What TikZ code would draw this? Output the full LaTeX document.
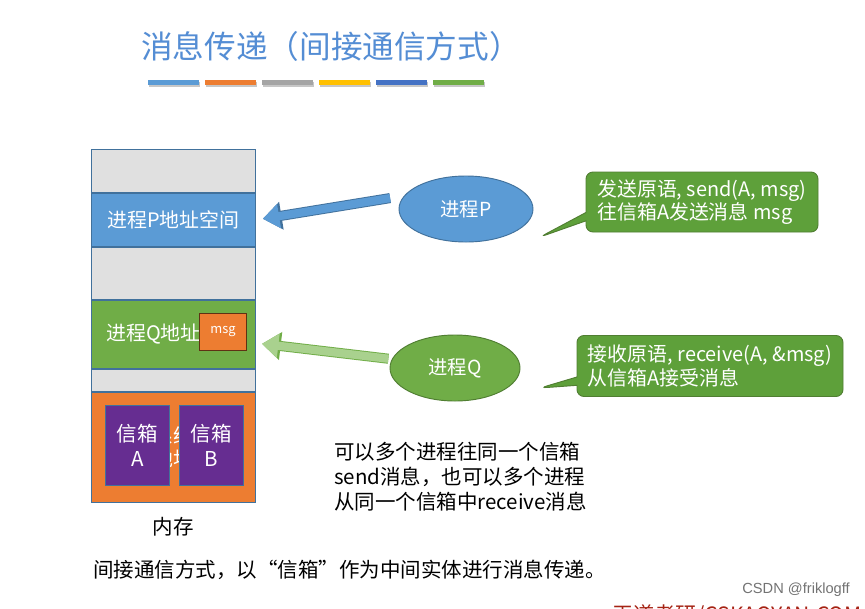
\documentclass[tikz,border=0pt]{standalone}
\usepackage{fontspec}
\setmainfont{Noto Sans CJK SC}
\newfontfamily\wmfont{Liberation Sans}
\usetikzlibrary{arrows.meta,shapes.geometric,shapes.callouts,positioning}
\usepackage{xcolor}
\definecolor{pblue}{RGB}{91,155,213}
\definecolor{pblueedge}{RGB}{65,113,156}
\definecolor{qgreen}{RGB}{112,173,71}
\definecolor{qgreenedge}{RGB}{80,126,50}
\definecolor{qarrow}{RGB}{169,209,142}
\definecolor{memgray}{RGB}{224,224,224}
\definecolor{kernorange}{RGB}{237,125,49}
\definecolor{boxpurple}{RGB}{102,45,145}
\definecolor{callgreen}{RGB}{94,160,58}
\definecolor{titleblue}{RGB}{84,141,212}
\definecolor{baryellow}{RGB}{255,192,0}
\definecolor{bardblue}{RGB}{68,114,196}
\definecolor{bargray}{RGB}{165,165,165}
\definecolor{wmred}{RGB}{165,35,20}
\newcommand{\pxl}{0.03cm}

\begin{document}
\begin{tikzpicture}[x=0.03cm,y=-0.03cm,
  memblk/.style={draw=pblueedge,line width=0.8pt,inner sep=0pt,minimum width=164*\pxl,text=white,font=\fontsize{17}{20}\selectfont},
  mailbox/.style={draw=pblueedge,line width=0.8pt,fill=boxpurple,inner sep=0pt,minimum width=64*\pxl,minimum height=80*\pxl,anchor=north west,text=white,align=center,font=\fontsize{17.5}{21}\selectfont},
  proc/.style={ellipse,line width=0.8pt,inner sep=0pt,text=white,font=\fontsize{16.5}{20}\selectfont},
  talk/.style={rectangle callout,fill=callgreen,draw=qgreenedge,line width=0.8pt,rounded corners=6pt,text=white,align=left,inner sep=0pt,font=\fontsize{17}{20}\selectfont},
  blkarrow/.style={line width=7pt,-{Triangle[length=14pt,width=20pt]},preaction={draw=#1,line width=8.6pt,-{Triangle[length=16pt,width=23pt]}}},
  plain/.style={font=\fontsize{17.5}{21.5}\selectfont,inner sep=0pt}]
\clip (0,0) rectangle (865,608);
\fill[white] (0,0) rectangle (865,608);

\node[anchor=west,text=titleblue,inner sep=0pt,font=\fontsize{27}{30}\selectfont] (title) at (141,46) {消息传递（间接通信方式）};
\fill[black!22] (149,82) rectangle (200,87);
\fill[pblue] (148,80) rectangle (199,85);
\fill[black!22] (206,82) rectangle (257,87);
\fill[kernorange] (205,80) rectangle (256,85);
\fill[black!22] (263,82) rectangle (314,87);
\fill[bargray] (262,80) rectangle (313,85);
\fill[black!22] (320,82) rectangle (371,87);
\fill[baryellow] (319,80) rectangle (370,85);
\fill[black!22] (377,82) rectangle (428,87);
\fill[bardblue] (376,80) rectangle (427,85);
\fill[black!22] (434,82) rectangle (485,87);
\fill[qgreen] (433,80) rectangle (484,85);

\node[memblk,fill=memgray,minimum height=43*\pxl,anchor=north west] (gtop) at (91,149) {};
\node[memblk,fill=pblue,minimum height=53*\pxl,below=0pt of gtop] (pspace) {进程P地址空间};
\node[memblk,fill=memgray,minimum height=52*\pxl,below=0pt of pspace] (gmid) {};
\node[memblk,fill=qgreen,minimum height=68*\pxl,below=0pt of gmid] (qspace) {进程Q地址空间};
\node[memblk,fill=memgray,minimum height=22*\pxl,below=0pt of qspace] (glow) {};
\node[memblk,fill=kernorange,minimum height=110*\pxl,below=0pt of glow,align=center] (kernel) {系统\\地址};
\node[draw=black!60!kernorange,line width=0.8pt,fill=kernorange,inner sep=0pt,minimum width=47*\pxl,minimum height=37*\pxl,anchor=north west,text=white,font=\fontsize{11}{13}\selectfont] (msg) at (199,313) {msg};
\node[mailbox] (boxa) at (105,405) {信箱\\A};
\node[mailbox] (boxb) at (179,405) {信箱\\B};
\node[plain] (mem) at (173,527) {内存};

\node[proc,fill=pblue,draw=pblueedge,minimum width=134*\pxl,minimum height=66*\pxl] (pproc) at (466,209) {进程P};
\node[proc,fill=qgreen,draw=qgreenedge,minimum width=130*\pxl,minimum height=66*\pxl] (qproc) at (455,368) {进程Q};
\coordinate (qin) at (255,343);
\draw[blkarrow=pblueedge,pblue,shorten <=12pt,shorten >=6pt] (pproc.168) -- (pspace.east);
\draw[blkarrow=qgreen,qarrow,shorten <=3pt,shorten >=6pt] (qproc.172) -- (qin);

\node[talk,minimum width=232*\pxl,minimum height=60*\pxl,callout absolute pointer={(540,237)}] (psend) at (702,202) {发送原语, send(A, msg)\\往信箱A发送消息 msg};
\node[talk,minimum width=266*\pxl,minimum height=61*\pxl,callout absolute pointer={(540,388)}] (qrecv) at (710,366) {接收原语, receive(A, \&msg)\\从信箱A接受消息};

\node[plain,anchor=north west,align=left] (note) at (334,442) {可以多个进程往同一个信箱\\send消息，也可以多个进程\\从同一个信箱中receive消息};
\node[plain,anchor=west] (summary) at (93,570) {间接通信方式，以“信箱”作为中间实体进行消息传递。};

\node[anchor=east,text=black!55,inner sep=0pt,font=\wmfont\fontsize{12.5}{15}\selectfont] (mark) at (850,590) {CSDN @friklogff};
\node[anchor=west,text=wmred,inner sep=0pt,font=\fontsize{18}{21}\selectfont] (site) at (612,615) {王道考研/CSKAOYAN.COM};
\end{tikzpicture}
\end{document}
